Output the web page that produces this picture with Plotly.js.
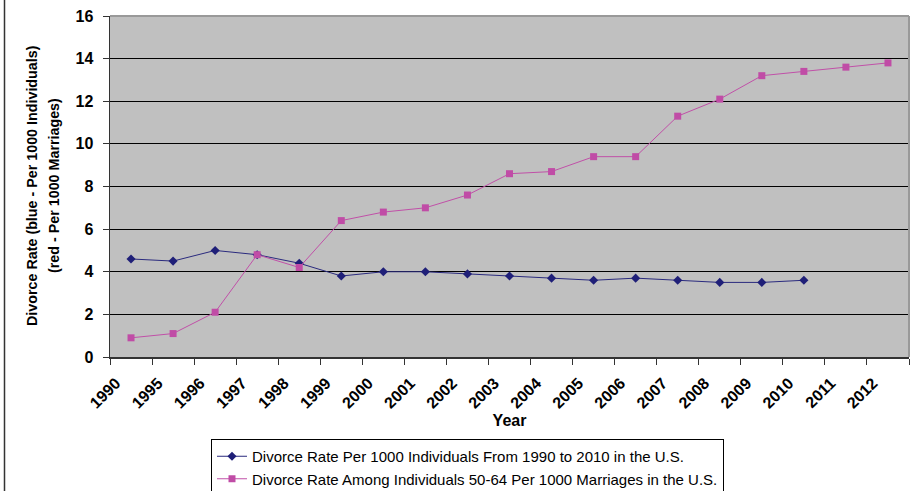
<!DOCTYPE html>
<html>
<head>
<meta charset="utf-8">
<script src="https://cdn.plot.ly/plotly-3.0.1.min.js"></script>
<style>html,body{margin:0;padding:0;background:#fff;}#chart{width:910px;height:491px;}</style>
</head>
<body>
<div id="chart"></div>
<script>
const categories = ["1990","1995","1996","1997","1998","1999","2000","2001","2002","2003","2004","2005","2006","2007","2008","2009","2010","2011","2012"];
const individualsRate = [4.6, 4.5, 5.0, 4.8, 4.4, 3.8, 4.0, 4.0, 3.9, 3.8, 3.7, 3.6, 3.7, 3.6, 3.5, 3.5, 3.6];
const marriagesRate50to64 = [0.9, 1.1, 2.1, 4.8, 4.2, 6.4, 6.8, 7.0, 7.6, 8.6, 8.7, 9.4, 9.4, 11.3, 12.1, 13.2, 13.4, 13.6, 13.8];
const seriesNames = [
  "Divorce Rate Per 1000 Individuals From 1990 to 2010 in the U.S.",
  "Divorce Rate Among Individuals 50-64 Per 1000 Marriages in the U.S."
];

// points sit in the middle of each category slot; labels sit on the slot boundaries
const xFor = arr => arr.map((_, i) => i + 0.5);
const tickvals = categories.map((_, i) => i).concat([categories.length]);
const ticktext = categories.concat([""]);

const FONT = "Liberation Sans, Arial, sans-serif";

const traces = [
  {
    x: xFor(individualsRate), y: individualsRate, name: seriesNames[0],
    type: "scatter", mode: "lines+markers",
    line: {color: "#2a2a7e", width: 1},
    marker: {symbol: "diamond", size: 7, color: "#1f1f78"}
  },
  {
    x: xFor(marriagesRate50to64), y: marriagesRate50to64, name: seriesNames[1],
    type: "scatter", mode: "lines+markers",
    line: {color: "#c050a8", width: 1},
    marker: {symbol: "square", size: 7, color: "#c04ca6"}
  }
];

const layout = {
  width: 910, height: 491,
  margin: {l: 110, r: 1, t: 16, b: 134, autoexpand: false},
  paper_bgcolor: "#ffffff",
  plot_bgcolor: "#c0c0c0",
  font: {family: FONT, color: "#000", size: 14},
  showlegend: true,
  legend: {
    x: (211 - 110) / 799, y: (357 - 439) / 341, xanchor: "left", yanchor: "top",
    bordercolor: "#000", borderwidth: 1, bgcolor: "#fff",
    font: {family: FONT, size: 15, color: "#000"},
    tracegroupgap: 0
  },
  xaxis: {
    automargin: false,
    range: [0, categories.length],
    tickmode: "array", tickvals: tickvals, ticktext: ticktext,
    tickangle: -45,
    tickfont: {family: FONT, size: 16, color: "#000", weight: "bold"},
    ticks: "outside", ticklen: 6, tickcolor: "#333",
    ticklabelshift: 6, ticklabelstandoff: 3,
    showgrid: false, zeroline: false,
    showline: true, linecolor: "#333", linewidth: 1.5,
    title: {text: "<b>Year</b>", font: {family: FONT, size: 16, color: "#000"}, standoff: 4},
    fixedrange: true
  },
  yaxis: {
    automargin: false,
    range: [0, 16], dtick: 2, tick0: 0,
    tickfont: {family: FONT, size: 16, color: "#000", weight: "bold"},
    ticks: "outside", ticklen: 6, tickcolor: "#333",
    ticklabelstandoff: 6,
    showgrid: true, gridcolor: "#000", gridwidth: 1,
    zeroline: false,
    showline: true, linecolor: "#333", linewidth: 1.5,
    fixedrange: true
  },
  annotations: [
    {text: "<b>Divorce Rate (blue - Per 1000 Individuals)</b>", textangle: -90,
     xref: "paper", yref: "paper", x: (32 - 110) / 799, y: (357 - 186) / 341,
     xanchor: "center", yanchor: "middle", showarrow: false,
     font: {family: FONT, size: 14.3, color: "#000"}},
    {text: "<b>(red - Per 1000 Marriages)</b>", textangle: -90,
     xref: "paper", yref: "paper", x: (54 - 110) / 799, y: (357 - 186) / 341,
     xanchor: "center", yanchor: "middle", showarrow: false,
     font: {family: FONT, size: 14.3, color: "#000"}}
  ],
  shapes: [
    {type: "line", xref: "paper", yref: "paper", x0: 0, x1: 1, y0: 1, y1: 1,
     line: {color: "#999", width: 2}},
    {type: "line", xref: "paper", yref: "paper", x0: 1, x1: 1, y0: 0, y1: 1,
     line: {color: "#999", width: 2}},
    {type: "line", xref: "paper", yref: "paper", x0: (4.5 - 110) / 799, x1: (4.5 - 110) / 799,
     y0: (357 - 495) / 341, y1: 360 / 341, line: {color: "#333", width: 1.5}}
  ]
};

Plotly.newPlot("chart", traces, layout, {displayModeBar: false, staticPlot: true});
</script>
</body>
</html>
